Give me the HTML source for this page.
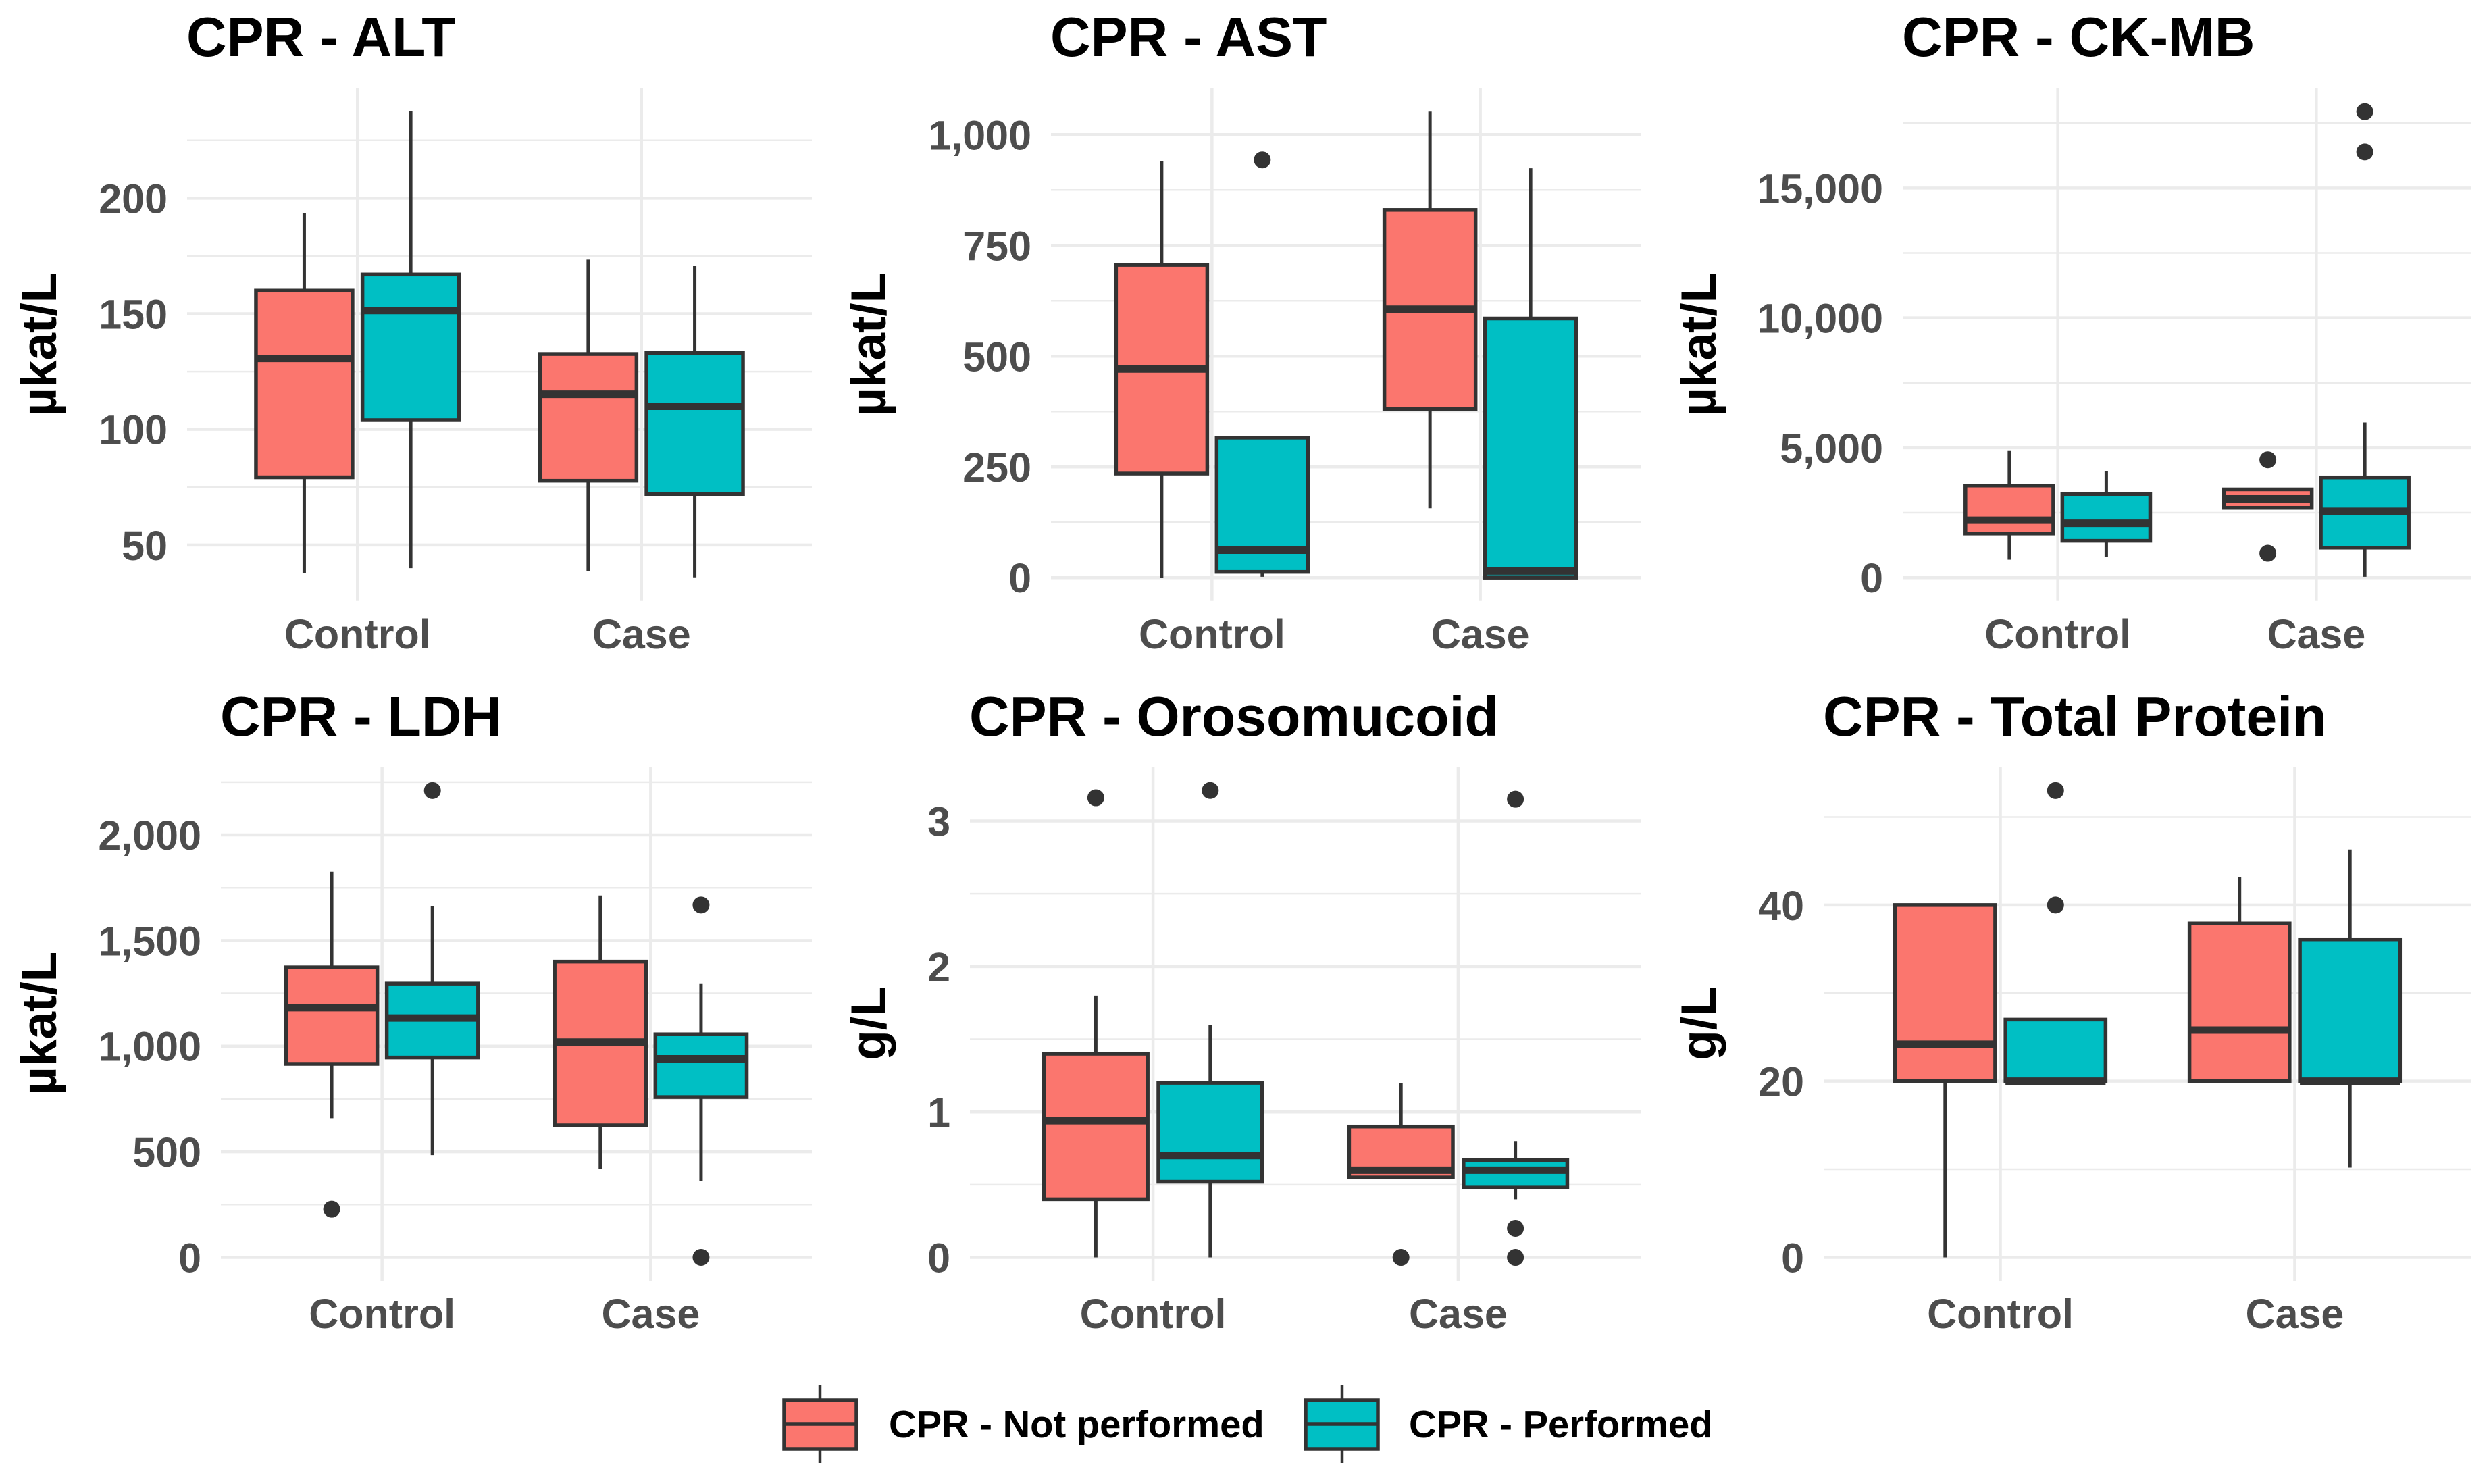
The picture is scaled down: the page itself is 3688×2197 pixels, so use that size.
<!DOCTYPE html>
<html lang="en">
<head>
<meta charset="utf-8">
<title>CPR biomarker box plots</title>
<style>
html,body{margin:0;padding:0;background:#fff;}
svg{display:block;font-family:"Liberation Sans",sans-serif;}
</style>
</head>
<body>
<svg id="figure" xmlns="http://www.w3.org/2000/svg" width="3688" height="2197" viewBox="0 0 3688 2197">
  <rect x="0" y="0" width="3688" height="2197" fill="#ffffff"/>
  <g id="panels"></g>
  <g>
    <g>
      <line x1="1214" x2="1214" y1="2050" y2="2071" stroke="#333333" stroke-width="4.5"/>
      <line x1="1214" x2="1214" y1="2146" y2="2166" stroke="#333333" stroke-width="4.5"/>
      <rect x="1161" y="2073" width="107" height="72" fill="#FB766E" stroke="#333333" stroke-width="5.5"/>
      <line x1="1161" x2="1268" y1="2108" y2="2108" stroke="#333333" stroke-width="5.5"/>
      <text x="1316" y="2128" font-size="56.2" font-weight="700" fill="#000000">CPR - Not performed</text>
    </g>
    <g>
      <line x1="1987" x2="1987" y1="2050" y2="2071" stroke="#333333" stroke-width="4.5"/>
      <line x1="1987" x2="1987" y1="2146" y2="2166" stroke="#333333" stroke-width="4.5"/>
      <rect x="1933" y="2073" width="107" height="72" fill="#00BFC4" stroke="#333333" stroke-width="5.5"/>
      <line x1="1933" x2="2040" y1="2108" y2="2108" stroke="#333333" stroke-width="5.5"/>
      <text x="2086" y="2128" font-size="56.2" font-weight="700" fill="#000000">CPR - Performed</text>
    </g>
  </g>
</svg>
<script>
// Shared categories
const categories = ['Control', 'Case'];
const seriesNames = ['not-performed', 'performed'];
const seriesColors = ['#FB766E', '#00BFC4'];

// Each box: [lower whisker, Q1, median, Q3, upper whisker], one per category
const altNotPerformed = [[37.9, 79.3, 130.7, 160, 193.5], [38.6, 77.8, 115.2, 132.6, 173.4]];
const altPerformed = [[40, 104, 151.4, 167, 237.6], [36, 72, 110, 133, 170.6]];
const altOutliersNotPerformed = [[], []];
const altOutliersPerformed = [[], []];
const altMajorTicks = [50, 100, 150, 200];
const altMinorTicks = [75, 125, 175, 225];
const altTickLabels = ['50', '100', '150', '200'];

const astNotPerformed = [[0, 235, 471, 706, 941], [157, 381, 606, 830, 1052]];
const astPerformed = [[2, 13, 62, 316, 316], [0, 0, 15, 585, 924]];
const astOutliersNotPerformed = [[], []];
const astOutliersPerformed = [[943], []];
const astMajorTicks = [0, 250, 500, 750, 1000];
const astMinorTicks = [125, 375, 625, 875];
const astTickLabels = ['0', '250', '500', '750', '1,000'];

const ckmbNotPerformed = [[693, 1700, 2211, 3548, 4900], [2650, 2690, 3036, 3400, 3450]];
const ckmbPerformed = [[792, 1419, 2095, 3218, 4108], [33, 1155, 2557, 3861, 5973]];
const ckmbOutliersNotPerformed = [[], [4537, 940]];
const ckmbOutliersPerformed = [[], [17942, 16390]];
const ckmbMajorTicks = [0, 5000, 10000, 15000];
const ckmbMinorTicks = [2500, 7500, 12500, 17500];
const ckmbTickLabels = ['0', '5,000', '10,000', '15,000'];

const ldhNotPerformed = [[659, 916, 1182, 1373, 1825], [417, 625, 1019, 1400, 1713]];
const ldhPerformed = [[484, 946, 1133, 1296, 1662], [362, 759, 940, 1056, 1294]];
const ldhOutliersNotPerformed = [[228], []];
const ldhOutliersPerformed = [[2210], [1668, 0]];
const ldhMajorTicks = [0, 500, 1000, 1500, 2000];
const ldhMinorTicks = [250, 750, 1250, 1750, 2250];
const ldhTickLabels = ['0', '500', '1,000', '1,500', '2,000'];

const oroNotPerformed = [[0, 0.40, 0.94, 1.40, 1.8], [0.55, 0.55, 0.60, 0.90, 1.2]];
const oroPerformed = [[0, 0.52, 0.70, 1.2, 1.6], [0.40, 0.48, 0.60, 0.67, 0.8]];
const oroOutliersNotPerformed = [[3.16], [0]];
const oroOutliersPerformed = [[3.21], [3.15, 0.2, 0]];
const oroMajorTicks = [0, 1, 2, 3];
const oroMinorTicks = [0.5, 1.5, 2.5];
const oroTickLabels = ['0', '1', '2', '3'];

const tpNotPerformed = [[0, 20, 24.2, 40, 40], [20, 20, 25.8, 37.9, 43.2]];
const tpPerformed = [[20, 20, 20, 27, 27], [10.2, 20, 20, 36.1, 46.3]];
const tpOutliersNotPerformed = [[], []];
const tpOutliersPerformed = [[53, 40], []];
const tpMajorTicks = [0, 20, 40];
const tpMinorTicks = [10, 30, 50];
const tpTickLabels = ['0', '20', '40'];

const panels = [
  {id:'alt', title:'CPR - ALT', unit:'µkat/L', x0:277, x1:1202, y0:130.7, y1:889.7, dMin:25.8, dMax:247.5, titleY:83, catY:960, unitX:83, unitY:510,
   np:altNotPerformed, p:altPerformed, npOut:altOutliersNotPerformed, pOut:altOutliersPerformed, major:altMajorTicks, minor:altMinorTicks, labels:altTickLabels},
  {id:'ast', title:'CPR - AST', unit:'µkat/L', x0:1556, x1:2430, y0:130.7, y1:889.7, dMin:-52.6, dMax:1104.6, titleY:83, catY:960, unitX:1311, unitY:510,
   np:astNotPerformed, p:astPerformed, npOut:astOutliersNotPerformed, pOut:astOutliersPerformed, major:astMajorTicks, minor:astMinorTicks, labels:astTickLabels},
  {id:'ck-mb', title:'CPR - CK-MB', unit:'µkat/L', x0:2817, x1:3659, y0:130.7, y1:889.7, dMin:-897, dMax:18839, titleY:83, catY:960, unitX:2540, unitY:510,
   np:ckmbNotPerformed, p:ckmbPerformed, npOut:ckmbOutliersNotPerformed, pOut:ckmbOutliersPerformed, major:ckmbMajorTicks, minor:ckmbMinorTicks, labels:ckmbTickLabels},
  {id:'ldh', title:'CPR - LDH', unit:'µkat/L', x0:327, x1:1202, y0:1135.8, y1:1896, dMin:-110.5, dMax:2320.5, titleY:1089, catY:1966, unitX:83, unitY:1515,
   np:ldhNotPerformed, p:ldhPerformed, npOut:ldhOutliersNotPerformed, pOut:ldhOutliersPerformed, major:ldhMajorTicks, minor:ldhMinorTicks, labels:ldhTickLabels},
  {id:'orosomucoid', title:'CPR - Orosomucoid', unit:'g/L', x0:1436, x1:2430, y0:1135.8, y1:1896, dMin:-0.16, dMax:3.37, titleY:1089, catY:1966, unitX:1311, unitY:1515,
   np:oroNotPerformed, p:oroPerformed, npOut:oroOutliersNotPerformed, pOut:oroOutliersPerformed, major:oroMajorTicks, minor:oroMinorTicks, labels:oroTickLabels},
  {id:'total-protein', title:'CPR - Total Protein', unit:'g/L', x0:2700, x1:3659, y0:1135.8, y1:1896, dMin:-2.65, dMax:55.65, titleY:1089, catY:1966, unitX:2540, unitY:1515,
   np:tpNotPerformed, p:tpPerformed, npOut:tpOutliersNotPerformed, pOut:tpOutliersPerformed, major:tpMajorTicks, minor:tpMinorTicks, labels:tpTickLabels}
];

const SVG_NS = 'http://www.w3.org/2000/svg';
const DARK = '#333333';
const GRID = '#ebebeb';
const root = document.getElementById('panels');

function make(tag, attrs, parent) {
  const el = document.createElementNS(SVG_NS, tag);
  for (const k in attrs) el.setAttribute(k, attrs[k]);
  parent.appendChild(el);
  return el;
}

function drawPanel(pn) {
  const g = make('g', {}, root);
  
  

  // Axis functions
  const bandUnit = (pn.x1 - pn.x0) / 2.2;
  const xCat = function (i) { return pn.x0 + (0.6 + i) * bandUnit; };
  const xBox = function (i, s) { return xCat(i) + (s === 0 ? -1 : 1) * bandUnit * 0.1875; };
  const boxWidth = bandUnit * 0.34;
  const yVal = function (v) { return pn.y1 - (v - pn.dMin) / (pn.dMax - pn.dMin) * (pn.y1 - pn.y0); };

  pn.minor.forEach(function (v) {
    const ln = make('line', {x1: pn.x0, x2: pn.x1, y1: yVal(v), y2: yVal(v), stroke: GRID, 'stroke-width': 2.5}, g);
    
    
  });
  pn.major.forEach(function (v, i) {
    const ln = make('line', {x1: pn.x0, x2: pn.x1, y1: yVal(v), y2: yVal(v), stroke: GRID, 'stroke-width': 4.5}, g);
    
    
    const t = make('text', {x: pn.x0 - 29, y: yVal(v) + 22, 'text-anchor': 'end', 'font-size': 61, 'font-weight': 700, fill: '#4d4d4d'}, g);
    t.textContent = pn.labels[i];
    
    
  });
  categories.forEach(function (c, i) {
    const ln = make('line', {x1: xCat(i), x2: xCat(i), y1: pn.y0, y2: pn.y1, stroke: GRID, 'stroke-width': 4.5}, g);
    
    
    const t = make('text', {x: xCat(i), y: pn.catY, 'text-anchor': 'middle', 'font-size': 61, 'font-weight': 700, fill: '#4d4d4d'}, g);
    t.textContent = c;
    
    
  });

  [pn.np, pn.p].forEach(function (series, s) {
    const outliers = s === 0 ? pn.npOut : pn.pOut;
    series.forEach(function (b, i) {
      const cx = xBox(i, s);
      const box = make('g', {}, g);
      
      

      const wl = make('line', {x1: cx, x2: cx, y1: yVal(b[0]), y2: yVal(b[1]), stroke: DARK, 'stroke-width': 5}, box);
      
      
      const wh = make('line', {x1: cx, x2: cx, y1: yVal(b[3]), y2: yVal(b[4]), stroke: DARK, 'stroke-width': 5}, box);
      
      
      const r = make('rect', {x: cx - boxWidth / 2, y: yVal(b[3]), width: boxWidth, height: yVal(b[1]) - yVal(b[3]), fill: seriesColors[s], stroke: DARK, 'stroke-width': 5.5}, box);
      
      
      const m = make('line', {x1: cx - boxWidth / 2, x2: cx + boxWidth / 2, y1: yVal(b[2]), y2: yVal(b[2]), stroke: DARK, 'stroke-width': 11}, box);
      
      

      outliers[i].forEach(function (v) {
        const o = make('circle', {cx: cx, cy: yVal(v), r: 12.5, fill: DARK}, box);
        
        
      });
    });
  });

  const title = make('text', {x: pn.x0 - 1, y: pn.titleY, 'font-size': 82.5, 'font-weight': 700, fill: '#000000'}, g);
  title.textContent = pn.title;
  
  

  const yTitle = make('text', {x: 0, y: 0, 'text-anchor': 'middle', 'font-size': 73, 'font-weight': 700, fill: '#000000', transform: 'translate(' + pn.unitX + ',' + pn.unitY + ') rotate(-90)'}, g);
  yTitle.textContent = pn.unit;
  
  
}

panels.forEach(drawPanel);
</script>
</body>
</html>
